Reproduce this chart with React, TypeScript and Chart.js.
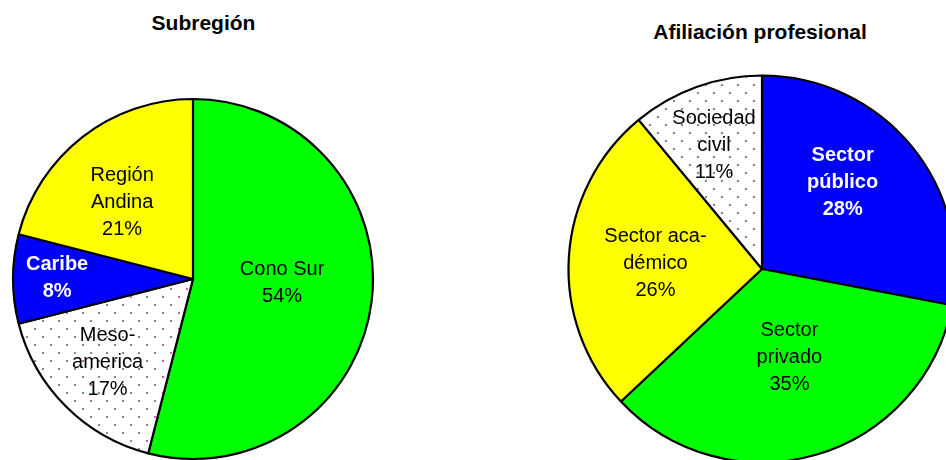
import React, { useEffect, useRef } from "react";
import { Chart, registerables } from "chart.js";

Chart.register(...registerables);

// ---- Data ----
const subregionTitle = "Subregión";
const subregionCategories = ["Cono Sur", "Meso-america", "Caribe", "Región Andina"];
const subregionLabelLines = [["Cono Sur"], ["Meso-", "america"], ["Caribe"], ["Región", "Andina"]];
const subregionValues = [54, 17, 8, 21];

const afiliacionTitle = "Afiliación profesional";
const afiliacionCategories = ["Sector público", "Sector privado", "Sector académico", "Sociedad civil"];
const afiliacionLabelLines = [["Sector", "público"], ["Sector", "privado"], ["Sector aca-", "démico"], ["Sociedad", "civil"]];
const afiliacionValues = [28, 35, 26, 11];

// ---- Styles / layout ----
const GREEN = "#00FF00";
const BLUE = "#0000FF";
const YELLOW = "#FFFF00";
const FONT = '"Liberation Sans", Arial, Helvetica, sans-serif';

function makeDotPattern(ctx: CanvasRenderingContext2D): CanvasPattern | string {
  const c = document.createElement("canvas");
  c.width = 16;
  c.height = 16;
  const g = c.getContext("2d");
  if (!g) return "#ffffff";
  g.fillStyle = "#ffffff";
  g.fillRect(0, 0, 16, 16);
  g.fillStyle = "#b86e96";
  g.fillRect(1, 1, 2, 2);
  g.fillRect(9, 9, 2, 2);
  return ctx.createPattern(c, "repeat") || "#ffffff";
}

type PieSpec = {
  categories: string[];
  lines: string[][];
  values: number[];
  fills: ("pattern" | string)[];
  textColors: string[];
  bold: boolean[];
  labelFrac: number[];
  labelAngleShift: number[];
  radius: number;
  size: number;
  left: number;
  top: number;
};

const leftPie: PieSpec = {
  categories: subregionCategories,
  lines: subregionLabelLines,
  values: subregionValues,
  fills: [GREEN, "pattern", BLUE, YELLOW],
  textColors: ["#000", "#000", "#fff", "#000"],
  bold: [false, false, true, false],
  labelFrac: [0.495, 0.655, 0.755, 0.585],
  labelAngleShift: [-5.6, 1.4, 1.0, -4.5],
  radius: 180,
  size: 400,
  left: 192.5 - 200,
  top: 278.5 - 200,
};

const rightPie: PieSpec = {
  categories: afiliacionCategories,
  lines: afiliacionLabelLines,
  values: afiliacionValues,
  fills: [BLUE, GREEN, YELLOW, "pattern"],
  textColors: ["#fff", "#000", "#000", "#000"],
  bold: [true, false, false, false],
  labelFrac: [0.617, 0.471, 0.552, 0.695],
  labelAngleShift: [-7.9, -1.3, 0.4, -1.1],
  radius: 193.5,
  size: 420,
  left: 762 - 210,
  top: 268.5 - 210,
};

function PieCanvas({ spec }: { spec: PieSpec }) {
  const ref = useRef<HTMLCanvasElement | null>(null);
  useEffect(() => {
    const canvas = ref.current;
    if (!canvas) return;
    const ctx = canvas.getContext("2d");
    if (!ctx) return;
    const pattern = makeDotPattern(ctx);
    const bg = spec.fills.map((f) => (f === "pattern" ? pattern : f));

    const labelPlugin = {
      id: "sliceLabels",
      afterDatasetsDraw(chart: any) {
        const c = chart.ctx as CanvasRenderingContext2D;
        const meta = chart.getDatasetMeta(0);
        meta.data.forEach((arc: any, i: number) => {
          const p = arc.getProps(["x", "y", "startAngle", "endAngle", "outerRadius"], true);
          const mid = (p.startAngle + p.endAngle) / 2 + (spec.labelAngleShift[i] * Math.PI) / 180;
          const r = p.outerRadius * spec.labelFrac[i];
          const cx = p.x + Math.cos(mid) * r;
          const cy = p.y + Math.sin(mid) * r;
          const text = [...spec.lines[i], `${spec.values[i]}%`];
          c.save();
          c.font = `${spec.bold[i] ? "bold " : ""}20px ${FONT}`;
          c.fillStyle = spec.textColors[i];
          c.textAlign = "center";
          c.textBaseline = "alphabetic";
          const lh = 27;
          text.forEach((t, j) => {
            const capMid = cy + (j - (text.length - 1) / 2) * lh;
            c.fillText(t, cx, capMid + 7.2);
          });
          c.restore();
        });
      },
    };

    const chart = new Chart(canvas, {
      type: "pie",
      data: {
        labels: spec.categories,
        datasets: [
          {
            data: spec.values,
            backgroundColor: bg as any,
            borderColor: "#000000",
            borderWidth: 2.2,
            radius: spec.radius,
          } as any,
        ],
      },
      options: {
        animation: false,
        responsive: false,
        maintainAspectRatio: false,
        events: [],
        layout: { padding: 0 },
        plugins: {
          legend: { display: false },
          tooltip: { enabled: false },
          title: { display: false },
        },
      },
      plugins: [labelPlugin],
    });
    return () => chart.destroy();
  }, [spec]);

  return (
    <canvas
      ref={ref}
      width={spec.size}
      height={spec.size}
      style={{
        position: "absolute",
        left: spec.left,
        top: spec.top,
        width: spec.size,
        height: spec.size,
      }}
    />
  );
}

export default function App() {
  const titleStyle: React.CSSProperties = {
    position: "absolute",
    font: `bold 21px ${FONT}`,
    lineHeight: "24px",
    textAlign: "center",
    color: "#000",
    whiteSpace: "nowrap",
    width: 400,
  };
  return (
    <div
      style={{
        position: "fixed",
        left: 0,
        top: 0,
        width: 946,
        height: 460,
        overflow: "hidden",
        background: "#ffffff",
      }}
    >
      <PieCanvas spec={leftPie} />
      <PieCanvas spec={rightPie} />
      <div style={{ ...titleStyle, left: 203.5 - 200, top: 10.5 }}>{subregionTitle}</div>
      <div style={{ ...titleStyle, left: 760 - 200, top: 20 }}>{afiliacionTitle}</div>
    </div>
  );
}
